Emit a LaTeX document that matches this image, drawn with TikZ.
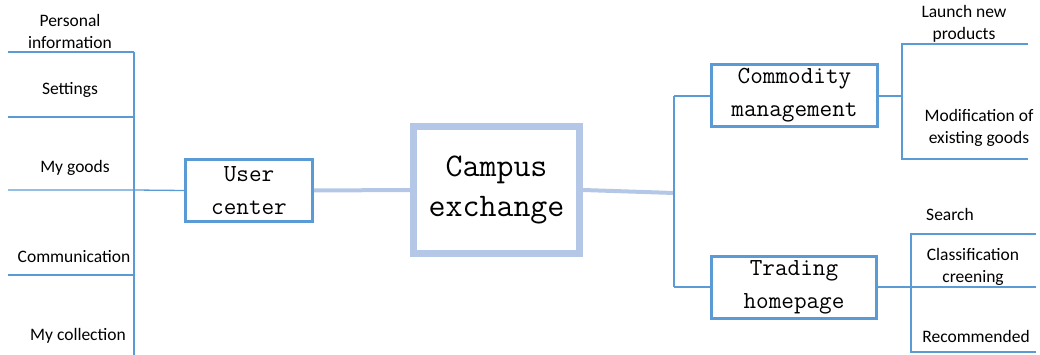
\documentclass[tikz,border=0pt]{standalone}
\usepackage{fontspec}
\setmainfont{Carlito}
\definecolor{midblue}{HTML}{5B9BD5}
\definecolor{paleblue}{HTML}{B4C7E7}
\begin{document}
\begin{tikzpicture}[x=1pt,y=-1pt,
  branch/.style={draw=midblue, line width=1.3pt},
  hub/.style={draw=paleblue, line width=4pt},
  leaf/.style={align=center, inner sep=0pt, font=\fontsize{17.5}{22}\selectfont},
  topicbox/.style={draw=midblue, line width=3pt, align=center, inner sep=0pt,
    font=\ttfamily\fontsize{24.5}{33}\selectfont},
  rootbox/.style={draw=paleblue, line width=7pt, align=center, inner sep=0pt,
    minimum width=166pt, minimum height=127pt,
    font=\ttfamily\fontsize{33}{40}\selectfont}]
\useasboundingbox (0,0) rectangle (1040,355);

% central topic and its two sides
\node[rootbox] (ce) at (496.5,190) {Campus\\exchange};
\node[topicbox, minimum width=127pt, minimum height=62pt] (uc) at (249,190.5) {User\\center};
\node[topicbox, minimum width=166pt, minimum height=62pt] (cm) at (794.5,95.5) {Commodity\\management};
\node[topicbox, minimum width=165pt, minimum height=62pt] (th) at (794,287.5) {Trading\\homepage};

% leaf labels
\node[leaf] (pi) at (70,31) {Personal\\information};
\node[leaf] (st) at (70,90) {Settings};
\node[leaf] (mg) at (75,168) {My goods};
\node[leaf] (co) at (74,257) {Communication};
\node[leaf] (mc) at (78,336) {My collection};
\node[leaf] (ln) at (964,24) {Launch new\\products};
\node[leaf] (me) at (979,128) {Modification of\\existing goods};
\node[leaf] (se) at (950,214) {Search};
\node[leaf] (cl) at (973,267) {Classification\\creening};
\node[leaf] (re) at (976,336) {Recommended};

% user center bracket
\coordinate (lj) at (134,190);
\coordinate (lt) at (134,52);
\coordinate (lb) at (134,355);
\draw[branch] (lt) -- (lb);
\draw[branch] (uc.west) -- (lj) -- (8,190);
\foreach \yy in {52,117,275} \draw[branch] (134,\yy) -- (8,\yy);

% links between main topics
\draw[hub] (uc.east) -- (ce.west);
\coordinate (rj) at (674,193);
\draw[hub] (ce.east) -- (rj);
\coordinate (rt) at (674,96);
\coordinate (rb) at (674,287);
\draw[branch] (rt) -- (rb);
\draw[branch] (rt) -- (rt -| cm.west);
\draw[branch] (rb) -- (rb -| th.west);

% commodity management bracket
\coordinate (cj) at (902,96);
\draw[branch] (cm.east |- cj) -- (cj);
\draw[branch] (1028,44) -- (902,44) -- (902,159) -- (1028,159);

% trading homepage bracket
\coordinate (tj) at (1036,287);
\draw[branch] (th.east |- tj) -- (tj);
\draw[branch] (1036,234) -- (911,234) -- (911,352) -- (1036,352);
\end{tikzpicture}
\end{document}
